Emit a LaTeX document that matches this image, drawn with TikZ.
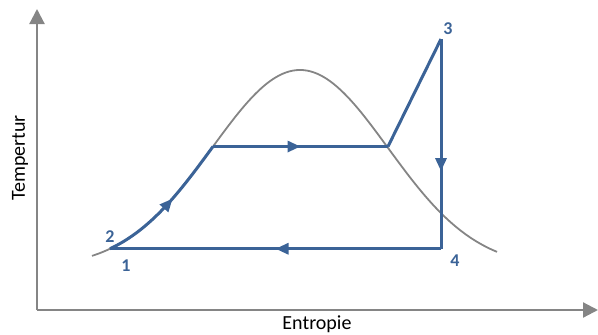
\documentclass[tikz,border=0pt]{standalone}
\usepackage{fontspec}
\setmainfont{Carlito}
\usepackage{tikz}
\usetikzlibrary{arrows.meta,decorations.markings}
\definecolor{cgray}{HTML}{858585}
\definecolor{cblue}{HTML}{3B6397}
\tikzset{
  axis/.style={cgray,line width=2.2pt,-{Triangle[length=15pt,width=15pt]}},
  cycle/.style={cblue,line width=3pt,line join=round},
  midarrow/.style={postaction={decorate,decoration={markings,
    mark=at position #1 with {\arrow{Triangle[length=13pt,width=11pt]}}}}},
  statelbl/.style={cblue,font=\fontsize{18}{20}\selectfont\bfseries,anchor=base}
}
\newcommand{\fT}[1]{268-198*exp(-0.5*((#1-300)/88)*((#1-300)/88))}

\begin{document}
\begin{tikzpicture}[x=1pt,y=-1pt]
\useasboundingbox (0,0) rectangle (598,335);

% ===== axes =====
\coordinate (origin) at (37,310);
\coordinate (ytip) at (37,9);
\coordinate (xtip) at (598,310);
\draw[axis] (origin) -- (ytip);
\draw[axis] (origin) -- (xtip);
\node[font=\fontsize{20}{22}\selectfont,rotate=90] (ylbl) at (20,158) {Tempertur};
\node[font=\fontsize{20}{22}\selectfont,anchor=base] (xlbl) at (317,329.5) {Entropie};

% ===== saturation dome =====
\draw[cgray,line width=1.8pt] plot[domain=92:497,samples=120] (\x,{\fT{\x}});

% ===== cycle =====
\coordinate (p1) at (110,{\fT{110}});
\coordinate (pa) at (213,{\fT{213}});
\coordinate (pb) at (388,{\fT{213}});
\coordinate (p3) at (441,39);
\coordinate (p4) at (441,{\fT{110}});
\draw[cycle,midarrow=0.55] plot[domain=110:213,samples=60] (\x,{\fT{\x}});
\draw[cycle,midarrow=0.5] (pa) -- (pb);
\draw[cycle] (pb) -- (p3);
\draw[cycle,midarrow=0.63] (p3) -- (p4);
\draw[cycle,midarrow=0.5] (p4) -- (p1);

\node[statelbl] (n2) at (110,242) {2};
\node[statelbl] (n1) at (126,271) {1};
\node[statelbl] (n3) at (448,34) {3};
\node[statelbl] (n4) at (455,266) {4};

\end{tikzpicture}
\end{document}
